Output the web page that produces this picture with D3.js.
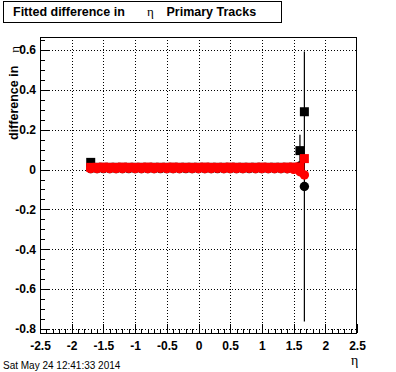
<!DOCTYPE html>
<html lang="en">
<head>
    <meta charset="UTF-8">
    <title>Fitted difference in eta</title>
    <script src="https://d3js.org/d3.v7.min.js"></script>
    <style>
        body { margin: 0; background: white; }
        text { font-family: "Liberation Sans", Arial, sans-serif; }
        .greek { font-family: "Liberation Serif", serif; font-weight: normal; }
    </style>
</head>
<body>
<svg id="canvas" width="396" height="372"></svg>
<script>
    // eta bins (last one is the edge bin)
    const etaBins = [-1.7, -1.6, -1.5, -1.4, -1.3, -1.2, -1.1, -1.0, -0.9, -0.8, -0.7, -0.6,
        -0.5, -0.4, -0.3, -0.2, -0.1, 0.0, 0.1, 0.2, 0.3, 0.4, 0.5, 0.6, 0.7, 0.8, 0.9,
        1.0, 1.1, 1.2, 1.3, 1.4, 1.5, 1.6, 1.67];
    // red series (squares and circles)
    const redSquare = [0.011, 0.011, 0.012, 0.011, 0.011, 0.012, 0.011, 0.011, 0.011, 0.012, 0.011, 0.011,
        0.011, 0.012, 0.011, 0.011, 0.011, 0.011, 0.012, 0.011, 0.011, 0.011, 0.012, 0.011, 0.011, 0.011,
        0.011, 0.012, 0.011, 0.011, 0.011, 0.012, 0.012, 0.013, 0.055];
    const redCircle = [0.005, 0.005, 0.006, 0.005, 0.005, 0.005, 0.006, 0.005, 0.005, 0.005, 0.005, 0.006,
        0.005, 0.005, 0.005, 0.006, 0.005, 0.005, 0.005, 0.005, 0.006, 0.005, 0.005, 0.005, 0.005, 0.006,
        0.005, 0.005, 0.005, 0.005, 0.005, 0.004, 0.001, -0.011, -0.027];
    // black series (mostly hidden under the red one)
    const blackSquare = [0.036, 0.011, 0.011, 0.011, 0.011, 0.011, 0.011, 0.011, 0.011, 0.011, 0.011, 0.011,
        0.011, 0.011, 0.011, 0.011, 0.011, 0.011, 0.011, 0.011, 0.011, 0.011, 0.011, 0.011, 0.011, 0.011,
        0.011, 0.011, 0.011, 0.011, 0.011, 0.011, 0.011, 0.095, 0.29];
    const blackSquareErr = [0.01, 0.003, 0.003, 0.003, 0.003, 0.003, 0.003, 0.003, 0.003, 0.003, 0.003, 0.003,
        0.003, 0.003, 0.003, 0.003, 0.003, 0.003, 0.003, 0.003, 0.003, 0.003, 0.003, 0.003, 0.003, 0.003,
        0.003, 0.003, 0.003, 0.003, 0.003, 0.003, 0.004, 0.079, 0.0];
    const blackCircle = [0.005, 0.005, 0.005, 0.005, 0.005, 0.005, 0.005, 0.005, 0.005, 0.005, 0.005, 0.005,
        0.005, 0.005, 0.005, 0.005, 0.005, 0.005, 0.005, 0.005, 0.005, 0.005, 0.005, 0.005, 0.005, 0.005,
        0.005, 0.005, 0.005, 0.005, 0.005, 0.005, 0.004, 0.018, -0.085];
    const blackCircleErr = [0.003, 0.003, 0.003, 0.003, 0.003, 0.003, 0.003, 0.003, 0.003, 0.003, 0.003, 0.003,
        0.003, 0.003, 0.003, 0.003, 0.003, 0.003, 0.003, 0.003, 0.003, 0.003, 0.003, 0.003, 0.003, 0.003,
        0.003, 0.003, 0.003, 0.003, 0.003, 0.003, 0.004, 0.01, 0.677];

    const xTicks = [-2.5, -2, -1.5, -1, -0.5, 0, 0.5, 1, 1.5, 2, 2.5];
    const yTicks = [-0.8, -0.6, -0.4, -0.2, 0, 0.2, 0.4, 0.6];

    let svg = d3.select('svg');
    let x = d3.scaleLinear().domain([-2.5, 2.5]).range([40, 357]);
    let y = d3.scaleLinear().domain([-0.82, 0.665]).range([333, 37]);

    // grid
    let grid = svg.append('g').attr('stroke', 'black').attr('stroke-dasharray', '1,2').attr('shape-rendering', 'crispEdges');
    grid.selectAll('line.gx').data(xTicks.slice(1, -1)).enter().append('line')
        .attr('x1', d => Math.round(x(d)) + 0.5).attr('x2', d => Math.round(x(d)) + 0.5)
        .attr('y1', 37).attr('y2', 333);
    grid.selectAll('line.gy').data(yTicks).enter().append('line')
        .attr('x1', 40).attr('x2', 357)
        .attr('y1', d => Math.round(y(d)) + 0.5).attr('y2', d => Math.round(y(d)) + 0.5);

    // axes with minor ticks
    let fmt = d => String(Math.round(d * 10) / 10);
    let xAxis = d3.axisBottom(x).tickValues(d3.range(-2.5, 2.51, 0.1)).tickSize(-4.5).tickFormat('');
    let xMajor = d3.axisBottom(x).tickValues(xTicks).tickSize(-9).tickPadding(8).tickFormat(fmt);
    let yAxis = d3.axisLeft(y).tickValues(d3.range(-0.8, 0.66, 0.05)).tickSize(-4.5).tickFormat('');
    let yMajor = d3.axisLeft(y).tickValues(yTicks).tickSize(-9).tickPadding(4).tickFormat(fmt);

    [[xAxis, 'translate(0,333)'], [xMajor, 'translate(0,333)'], [yAxis, 'translate(40,0)'], [yMajor, 'translate(40,0)']]
        .forEach(([ax, tr]) => {
            let g = svg.append('g').attr('transform', tr).call(ax);
            g.select('.domain').remove();
            g.selectAll('line').attr('shape-rendering', 'crispEdges');
            g.selectAll('text')
                .style('font-family', '"Liberation Sans", Arial, sans-serif')
                .style('font-size', '12px').style('font-weight', 'bold').attr('fill', 'black');
        });

    // frame
    svg.append('rect').attr('x', 40.5).attr('y', 37.5).attr('width', 316).attr('height', 295.5)
        .attr('fill', 'none').attr('stroke', 'black').attr('shape-rendering', 'crispEdges');

    // black series: error bars then markers
    let plot = svg.append('g');
    function errorBars(vals, errs) {
        plot.selectAll(null).data(etaBins).enter().append('line')
            .attr('x1', d => x(d)).attr('x2', d => x(d))
            .attr('y1', (d, i) => y(vals[i] + errs[i])).attr('y2', (d, i) => y(vals[i] - errs[i]))
            .attr('stroke', 'black').attr('stroke-width', 1.2);
    }
    errorBars(blackSquare, blackSquareErr);
    errorBars(blackCircle, blackCircleErr);

    function squares(vals, color) {
        plot.selectAll(null).data(etaBins).enter().append('rect')
            .attr('x', d => x(d) - 4.5).attr('y', (d, i) => y(vals[i]) - 4.5)
            .attr('width', 9).attr('height', 9).attr('fill', color);
    }
    function circles(vals, color) {
        plot.selectAll(null).data(etaBins).enter().append('circle')
            .attr('cx', d => x(d)).attr('cy', (d, i) => y(vals[i]))
            .attr('r', 4.7).attr('fill', color);
    }
    circles(blackCircle, 'black');
    squares(blackSquare, 'black');
    circles(redCircle, '#ff0000');
    squares(redSquare, '#ff0000');

    // title box
    svg.append('rect').attr('x', 3.5).attr('y', 1.5).attr('width', 278).attr('height', 21)
        .attr('fill', 'white').attr('stroke', 'black');
    let title = svg.append('text').attr('x', 13).attr('y', 16).attr('font-size', 12.5).attr('font-weight', 'bold');
    title.append('tspan').text('Fitted difference in');
    title.append('tspan').attr('class', 'greek').attr('x', 147).attr('font-size', 13).text('\u03b7');
    title.append('tspan').attr('x', 166.5).text('Primary Tracks');

    // y axis title
    let yt = svg.append('text').attr('transform', 'translate(18,140) rotate(-90)')
        .attr('font-size', 12.5).attr('font-weight', 'bold');
    yt.append('tspan').text('difference in');
    yt.append('tspan').attr('class', 'greek').attr('dy', 1).attr('dx', 13).attr('font-size', 13).text('\u03b7');

    // x axis title
    svg.append('text').attr('class', 'greek').attr('x', 351).attr('y', 365).attr('font-size', 14).text('\u03b7');

    // date stamp
    svg.append('text').attr('x', 3).attr('y', 369).attr('font-size', 10).text('Sat May 24 12:41:33 2014');
</script>
</body>
</html>
